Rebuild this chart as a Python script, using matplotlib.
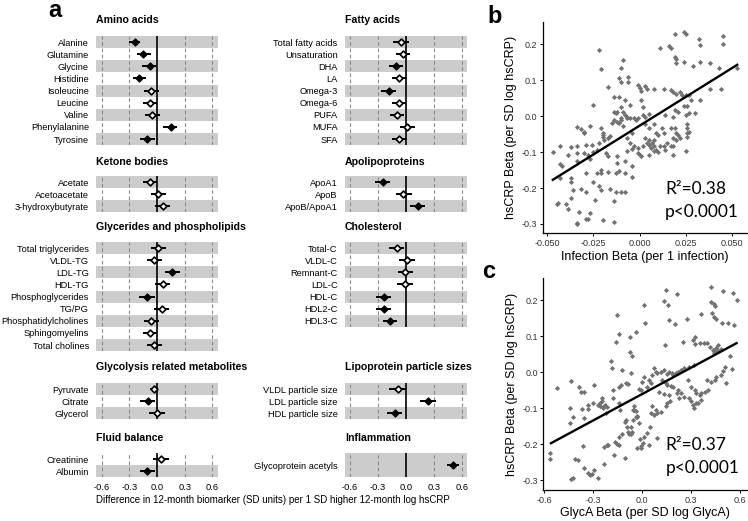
import numpy as np
import matplotlib.pyplot as plt

plt.rcParams['font.family'] = ['Liberation Sans', 'DejaVu Sans']

# ---- panel a: estimates and 95% CI per biomarker group ----
amino_names = ['Alanine', 'Glutamine', 'Glycine', 'Histidine', 'Isoleucine',
               'Leucine', 'Valine', 'Phenylalanine', 'Tyrosine']
amino_est = [-0.24, -0.15, -0.08, -0.19, -0.06, -0.075, -0.05, 0.15, -0.105]
amino_lo = [-0.30, -0.22, -0.16, -0.26, -0.14, -0.155, -0.125, 0.07, -0.185]
amino_hi = [-0.18, -0.07, -0.01, -0.12, 0.025, 0.005, 0.03, 0.22, -0.025]
amino_sig = [1, 1, 1, 1, 0, 0, 0, 1, 1]

ketone_names = ['Acetate', 'Acetoacetate', '3-hydroxybutyrate']
ketone_est = [-0.08, 0.015, 0.06]
ketone_lo = [-0.155, -0.07, -0.02]
ketone_hi = [-0.005, 0.10, 0.14]
ketone_sig = [0, 0, 0]

glyc_names = ['Total triglycerides', 'VLDL-TG', 'LDL-TG', 'HDL-TG', 'Phosphoglycerides',
              'TG/PG', 'Phosphatidylcholines', 'Sphingomyelins', 'Total cholines']
glyc_est = [0.015, -0.03, 0.165, 0.06, -0.11, 0.05, -0.06, -0.075, -0.03]
glyc_lo = [-0.065, -0.11, 0.085, -0.025, -0.19, -0.03, -0.14, -0.155, -0.11]
glyc_hi = [0.095, 0.055, 0.25, 0.14, -0.025, 0.13, 0.02, 0.0, 0.055]
glyc_sig = [0, 0, 1, 0, 1, 0, 0, 0, 0]

glycol_names = ['Pyruvate', 'Citrate', 'Glycerol']
glycol_est = [-0.03, -0.10, -0.005]
glycol_lo = [-0.075, -0.185, -0.085]
glycol_hi = [0.01, -0.02, 0.085]
glycol_sig = [0, 1, 0]

fluid_names = ['Creatinine', 'Albumin']
fluid_est = [0.045, -0.105]
fluid_lo = [-0.04, -0.185]
fluid_hi = [0.13, -0.025]
fluid_sig = [0, 1]

fatty_names = ['Total fatty acids', 'Unsaturation', 'DHA', 'LA', 'Omega-3',
               'Omega-6', 'PUFA', 'MUFA', 'SFA']
fatty_est = [-0.055, -0.035, -0.105, -0.07, -0.185, -0.075, -0.10, 0.015, -0.07]
fatty_lo = [-0.135, -0.11, -0.18, -0.15, -0.265, -0.15, -0.175, -0.06, -0.15]
fatty_hi = [0.03, 0.045, -0.03, 0.01, -0.11, 0.005, -0.02, 0.10, 0.01]
fatty_sig = [0, 0, 1, 0, 1, 0, 0, 0, 0]

apo_names = ['ApoA1', 'ApoB', 'ApoB/ApoA1']
apo_est = [-0.25, -0.03, 0.125]
apo_lo = [-0.33, -0.105, 0.045]
apo_hi = [-0.17, 0.06, 0.205]
apo_sig = [1, 0, 1]

chol_names = ['Total-C', 'VLDL-C', 'Remnant-C', 'LDL-C', 'HDL-C', 'HDL2-C', 'HDL3-C']
chol_est = [-0.10, 0.01, -0.01, -0.015, -0.24, -0.24, -0.17]
chol_lo = [-0.18, -0.07, -0.09, -0.095, -0.32, -0.32, -0.25]
chol_hi = [-0.025, 0.10, 0.08, 0.07, -0.16, -0.16, -0.095]
chol_sig = [0, 0, 0, 0, 1, 1, 1]

lipo_names = ['VLDL particle size', 'LDL particle size', 'HDL particle size']
lipo_est = [-0.09, 0.235, -0.12]
lipo_lo = [-0.18, 0.155, -0.20]
lipo_hi = [-0.005, 0.32, -0.04]
lipo_sig = [0, 1, 1]

infl_names = ['Glycoprotein acetyls']
infl_est = [0.50]
infl_lo = [0.44]
infl_hi = [0.565]
infl_sig = [1]

# ---- panel b: infection beta vs hsCRP beta ----
b_x = [0.019, 0.024, 0.025, 0.032, 0.045, 0.045, 0.033, 0.016, 0.011, 0.017,
       -0.022, -0.009, 0.019, 0.020, 0.020, 0.024, 0.029, 0.033, 0.038, 0.043,
       0.053, -0.021, -0.010, -0.011, -0.010, -0.006, -0.006, -0.001, 0.000, 0.003,
       0.004, 0.008, 0.013, 0.017, 0.018, 0.020, 0.022, 0.023, 0.025, 0.027,
       0.028, 0.033, 0.038, 0.044, 0.026, 0.024, -0.017, -0.014, -0.011, -0.008,
       -0.005, 0.001, 0.002, -0.025, -0.014, -0.013, -0.012, -0.010, -0.009, -0.008,
       -0.007, -0.007, -0.010, -0.010, -0.012, -0.014, -0.011, -0.005, -0.003, -0.002,
       -0.001, 0.002, 0.003, 0.005, -0.034, -0.032, -0.030, -0.027, -0.030, -0.021,
       -0.020, -0.020, -0.022, -0.019, -0.017, -0.016, -0.026, -0.029, -0.034, -0.047,
       -0.043, -0.037, -0.034, -0.039, -0.030, -0.028, -0.025, -0.023, -0.027, -0.018,
       -0.017, -0.012, -0.012, -0.007, -0.004, -0.004, -0.001, -0.001, 0.000, -0.007,
       -0.008, -0.004, -0.043, -0.042, -0.034, -0.037, -0.043, -0.029, -0.021, -0.021,
       -0.017, -0.013, -0.011, -0.008, -0.004, -0.045, -0.044, -0.040, -0.039, -0.033,
       -0.027, -0.028, -0.029, -0.024, -0.014, -0.014, -0.034, -0.034, -0.020, -0.036,
       -0.032, -0.029, -0.037, -0.016, -0.013, -0.010, -0.008, -0.025, -0.023, 0.003,
       0.005, 0.008, 0.009, 0.012, 0.013, 0.017, 0.019, 0.020, 0.021, 0.018,
       0.022, 0.020, 0.026, 0.026, 0.027, 0.026, 0.026, 0.030, 0.003, 0.007,
       0.008, 0.008, 0.009, 0.010, 0.011, 0.013, 0.015, 0.017, 0.018, 0.014,
       0.004, 0.005, 0.006, 0.025, 0.018, -0.003, -0.005, -0.020, -0.015, -0.009,
       0.014, 0.018, 0.019, 0.021, 0.025, 0.027, 0.001, 0.010, 0.005, 0.002,
       0.001, 0.005, 0.008, -0.037, -0.022, -0.021]
b_y = [0.229, 0.234, 0.228, 0.215, 0.222, 0.200, 0.197, 0.194, 0.189, 0.191,
       0.185, 0.157, 0.164, 0.159, 0.147, 0.151, 0.140, 0.150, 0.147, 0.134,
       0.134, 0.131, 0.134, 0.106, 0.096, 0.110, 0.096, 0.087, 0.078, 0.084,
       0.075, 0.075, 0.075, 0.073, 0.066, 0.062, 0.066, 0.058, 0.058, 0.058,
       0.045, 0.045, 0.075, 0.075, 0.029, 0.027, 0.081, 0.053, 0.053, 0.044,
       0.032, 0.045, 0.025, 0.032, 0.013, 0.008, 0.013, 0.025, 0.013, 0.004,
       -0.001, -0.006, -0.006, -0.010, -0.015, -0.012, -0.019, -0.006, -0.005, -0.010,
       -0.006, 0.004, -0.001, 0.005, -0.031, -0.036, -0.043, -0.027, -0.047, -0.033,
       -0.052, -0.058, -0.075, -0.066, -0.061, -0.055, -0.080, -0.080, -0.083, -0.101,
       -0.084, -0.086, -0.103, -0.108, -0.103, -0.108, -0.101, -0.094, -0.120, -0.103,
       -0.110, -0.112, -0.131, -0.061, -0.047, -0.092, -0.089, -0.103, -0.108, -0.098,
       -0.126, -0.140, -0.133, -0.138, -0.126, -0.173, -0.173, -0.159, -0.151, -0.159,
       -0.154, -0.157, -0.153, -0.157, -0.170, -0.244, -0.242, -0.244, -0.259, -0.268,
       -0.270, -0.286, -0.287, -0.233, -0.237, -0.294, -0.296, -0.300, -0.288, -0.205,
       -0.203, -0.210, -0.228, -0.202, -0.210, -0.210, -0.212, -0.182, -0.159, -0.022,
       -0.032, -0.021, -0.047, -0.033, -0.047, -0.033, -0.033, -0.047, -0.052, -0.061,
       -0.061, -0.066, -0.021, -0.032, -0.043, -0.047, -0.057, 0.010, -0.061, -0.075,
       -0.066, -0.084, -0.094, -0.099, -0.084, -0.082, -0.075, -0.084, -0.084, -0.094,
       -0.075, -0.080, -0.089, -0.098, -0.108, -0.084, -0.075, -0.047, -0.019, -0.028,
       0.004, -0.001, 0.018, 0.013, 0.004, 0.010, 0.069, -0.052, -0.066, -0.083,
       -0.110, -0.108, -0.098, -0.182, -0.195, -0.205]
b_fit_x = [-0.047, 0.053]
b_fit_y = [-0.177, 0.143]

# ---- panel c: GlycA beta vs hsCRP beta ----
c_x = [-0.563, -0.563, -0.521, -0.439, -0.443, -0.445, -0.424, -0.435, -0.422, -0.410,
       -0.393, -0.389, -0.377, -0.356, -0.368, -0.335, -0.331, -0.356, -0.362, -0.356,
       -0.335, -0.321, -0.310, -0.294, -0.269, -0.300, -0.294, -0.269, -0.259, -0.248,
       -0.245, -0.238, -0.228, -0.217, -0.221, -0.259, -0.240, -0.236, -0.217, -0.207,
       -0.232, -0.190, -0.186, -0.182, -0.182, -0.170, -0.155, -0.145, -0.174, -0.161,
       -0.153, -0.141, -0.141, -0.132, -0.145, -0.134, -0.124, -0.141, -0.124, -0.103,
       -0.099, -0.087, -0.108, -0.099, -0.095, -0.087, -0.079, -0.070, -0.062, -0.066,
       -0.054, -0.041, -0.052, -0.037, -0.029, -0.058, -0.074, -0.062, -0.072, -0.070,
       -0.037, -0.021, -0.010, 0.000, 0.012, 0.017, 0.010, 0.145, 0.213, 0.134,
       0.159, 0.166, 0.201, 0.275, 0.362, 0.424, 0.497, 0.559, 0.579, 0.420,
       0.441, 0.449, 0.428, 0.441, 0.455, 0.490, 0.528, 0.565, 0.139, 0.248,
       0.310, 0.325, 0.352, 0.379, 0.399, 0.414, 0.321, 0.466, 0.434, 0.445,
       0.455, 0.466, 0.441, 0.482, 0.072, 0.083, 0.062, 0.093, 0.114, 0.134,
       0.151, 0.166, 0.180, 0.192, 0.207, 0.217, 0.238, 0.259, 0.290, 0.317,
       0.041, 0.052, 0.031, -0.006, 0.124, 0.145, 0.155, 0.176, 0.192, 0.217,
       0.238, 0.259, 0.228, 0.213, 0.103, 0.134, 0.166, 0.279, 0.300, 0.321,
       0.331, 0.352, 0.362, 0.383, 0.403, 0.399, 0.424, 0.445, 0.455, 0.486,
       0.497, 0.507, 0.290, 0.300, 0.310, 0.317, 0.331, 0.341, 0.362, 0.062,
       0.083, 0.093, 0.114, 0.145, 0.155, 0.172, 0.052, 0.072, -0.052, -0.031,
       -0.021, 0.048, 0.031, 0.014, -0.014, 0.006, 0.041, 0.093, -0.035, -0.010,
       0.538, 0.548, 0.517]
c_y = [-0.225, -0.242, -0.044, -0.023, -0.098, -0.142, -0.123, -0.297, -0.294, -0.241,
       -0.244, -0.040, -0.054, -0.054, -0.103, -0.101, -0.091, -0.127, -0.204, -0.267,
       -0.281, -0.284, -0.282, -0.271, -0.294, -0.084, -0.036, -0.090, -0.093, -0.081,
       -0.072, -0.096, -0.092, -0.096, -0.114, -0.085, -0.100, -0.208, -0.203, -0.201,
       -0.256, 0.032, 0.011, -0.049, -0.072, -0.195, -0.199, -0.202, -0.229, 0.083,
       0.160, 0.106, -0.040, -0.036, -0.086, -0.105, 0.006, -0.179, -0.171, -0.237,
       -0.031, -0.032, -0.137, -0.132, -0.151, -0.165, -0.171, -0.171, -0.165, -0.151,
       -0.132, -0.123, -0.106, -0.108, -0.121, -0.106, 0.057, 0.044, 0.099, -0.003,
       0.113, -0.047, -0.211, -0.026, 0.187, 0.136, -0.012, 0.229, 0.218, 0.199,
       0.187, 0.144, 0.134, 0.147, 0.162, 0.236, 0.227, 0.221, 0.201, 0.194,
       0.190, 0.184, 0.164, 0.155, 0.147, 0.136, 0.138, 0.131, 0.076, 0.085,
       0.090, 0.099, 0.081, 0.082, 0.081, 0.071, 0.079, 0.076, 0.062, 0.057,
       0.067, 0.060, 0.053, 0.064, 0.011, 0.002, -0.007, -0.003, 0.002, 0.006,
       -0.005, 0.002, -0.003, -0.007, -0.001, 0.002, 0.006, 0.011, 0.014, 0.020,
       -0.021, -0.031, -0.040, -0.049, -0.021, -0.031, -0.035, -0.038, -0.042, -0.049,
       -0.058, -0.068, -0.072, -0.058, -0.056, -0.060, -0.063, -0.021, -0.040, -0.049,
       -0.058, -0.063, -0.058, -0.054, -0.049, -0.021, -0.026, -0.021, -0.012, -0.007,
       0.005, 0.016, -0.072, -0.079, -0.091, -0.100, -0.086, -0.084, -0.077, -0.095,
       -0.106, -0.114, -0.109, -0.095, -0.086, -0.081, -0.112, -0.119, -0.095, -0.123,
       -0.142, -0.151, -0.169, -0.179, -0.186, -0.197, -0.202, -0.183, -0.211, -0.206,
       0.044, 0.010, -0.030]
c_fit_x = [-0.560, 0.579]
c_fit_y = [-0.197, 0.081]

W, H = 748, 521
fig = plt.figure(figsize=(W / 100, H / 100), dpi=100)


def box(x0, y0, x1, y1):
    # pixel box, origin top-left -> figure fraction rect
    return [x0 / W, 1 - y1 / H, (x1 - x0) / W, (y1 - y0) / H]


ROW = 12.125
TICKS = [-0.6, -0.3, 0.0, 0.3, 0.6]


def forest(x0, x1, top, title_y, title, names, est, lo, hi, sig, slots=None, bottom=False):
    n = len(names)
    slots = slots or n
    pad = (slots - n) / 2
    ax = fig.add_axes(box(x0, top, x1, top + slots * ROW))
    ax.set_xlim(-0.655, 0.655)
    ax.set_ylim(n - 0.5 + pad, -0.5 - pad)
    y = np.arange(n)
    for i in y:
        if (n - 1 - i) % 2 == 0:
            if n == 1:
                ax.axhspan(-0.5 - pad, 0.5 + pad, color='#cccccc', lw=0)
            else:
                ax.axhspan(i - 0.5, i + 0.5, color='#cccccc', lw=0)
    for v in (-0.6, -0.3, 0.3, 0.6):
        ax.axvline(v, color='#8a8a8a', lw=0.8, ls=(0, (3.2, 2.4)))
    ax.axvline(0, color='black', lw=1.2)
    ax.hlines(y, lo, hi, color='black', lw=1.4, zorder=3)
    est = np.array(est)
    sig = np.array(sig, dtype=bool)
    ax.scatter(est[sig], y[sig], marker='D', s=13, facecolor='black',
               edgecolor='black', lw=0.9, zorder=4)
    ax.scatter(est[~sig], y[~sig], marker='D', s=12, facecolor='white',
               edgecolor='black', lw=1.2, zorder=4)
    ax.set_yticks(y)
    ax.set_yticklabels(names, fontsize=6.7)
    ax.tick_params(axis='y', length=0, pad=5.4)
    if bottom:
        ax.set_xticks(TICKS)
        ax.set_xticklabels(['-0.6', '-0.3', '0.0', '0.3', '0.6'], fontsize=6.7)
        ax.tick_params(axis='x', length=0, pad=4)
    else:
        ax.set_xticks([])
    for s in ax.spines.values():
        s.set_visible(False)
    fig.text(x0 / W, 1 - title_y / H, title, fontsize=7.6, fontweight='bold',
             ha='left', va='center')
    return ax


LX0, LX1 = 96.5, 217.5
RX0, RX1 = 345, 467

forest(LX0, LX1, 36, 20, 'Amino acids', amino_names, amino_est, amino_lo, amino_hi, amino_sig)
forest(LX0, LX1, 176, 162, 'Ketone bodies', ketone_names, ketone_est, ketone_lo, ketone_hi, ketone_sig)
forest(LX0, LX1, 242, 227, 'Glycerides and phospholipids', glyc_names, glyc_est, glyc_lo, glyc_hi, glyc_sig)
forest(LX0, LX1, 383, 367, 'Glycolysis related metabolites', glycol_names, glycol_est, glycol_lo, glycol_hi, glycol_sig)
forest(LX0, LX1, 453, 438, 'Fluid balance', fluid_names, fluid_est, fluid_lo, fluid_hi, fluid_sig, bottom=True)

forest(RX0, RX1, 36, 20, 'Fatty acids', fatty_names, fatty_est, fatty_lo, fatty_hi, fatty_sig)
forest(RX0, RX1, 176, 162, 'Apolipoproteins', apo_names, apo_est, apo_lo, apo_hi, apo_sig)
forest(RX0, RX1, 242, 227, 'Cholesterol', chol_names, chol_est, chol_lo, chol_hi, chol_sig)
forest(RX0, RX1, 383, 367, 'Lipoprotein particle sizes', lipo_names, lipo_est, lipo_lo, lipo_hi, lipo_sig)
forest(RX0, RX1, 453, 438, 'Inflammation', infl_names, infl_est, infl_lo, infl_hi, infl_sig,
       slots=2, bottom=True)

fig.text(273 / W, 1 - 500 / H,
         'Difference in 12-month biomarker (SD units) per 1 SD higher 12-month log hsCRP',
         fontsize=7, ha='center', va='center')


def scatter_panel(rect, xs, ys, fx, fy, xlim, ylim, xticks, xticklabels, xlabel, r2, txt_x):
    ax = fig.add_axes(rect)
    ax.scatter(xs, ys, marker='D', s=7, color='#727272', linewidths=0, zorder=2)
    ax.plot(fx, fy, color='black', lw=1.7, zorder=3)
    ax.set_xlim(xlim)
    ax.set_ylim(ylim)
    ax.set_xticks(xticks)
    ax.set_xticklabels(xticklabels)
    yt = [-0.3, -0.2, -0.1, 0.0, 0.1, 0.2]
    ax.set_yticks(yt)
    ax.set_yticklabels(['%.1f' % v for v in yt])
    ax.tick_params(direction='out', length=2.5, width=0.7, labelsize=6.5,
                   labelcolor='#333333', pad=1.5)
    for side in ('top', 'right'):
        ax.spines[side].set_visible(False)
    for side in ('left', 'bottom'):
        ax.spines[side].set_linewidth(0.9)
    ax.set_xlabel(xlabel, fontsize=9, labelpad=2)
    ax.set_ylabel('hsCRP Beta (per SD log hsCRP)', fontsize=9, labelpad=3)
    ax.text(txt_x, -0.203, 'R\u00b2=' + r2, fontsize=12.5, family=['Lato', 'DejaVu Sans'],
            ha='left', va='center')
    ax.text(txt_x, -0.267, 'p<0.0001', fontsize=12.5, family=['Lato', 'DejaVu Sans'],
            ha='left', va='center')
    return ax


scatter_panel(box(542.7, 22.4, 746.5, 233.3), b_x, b_y, b_fit_x, b_fit_y,
              (-0.0525, 0.058), (-0.326, 0.261),
              [-0.05, -0.025, 0.0, 0.025, 0.05],
              ['-0.050', '-0.025', '0.000', '0.025', '0.050'],
              'Infection Beta (per 1 infection)', '0.38', 0.0138)
scatter_panel(box(543.3, 278, 746.5, 490), c_x, c_y, c_fit_x, c_fit_y,
              (-0.607, 0.640), (-0.327, 0.262),
              [-0.6, -0.3, 0.0, 0.3, 0.6],
              ['-0.6', '-0.3', '0.0', '0.3', '0.6'],
              'GlycA Beta (per SD log GlycA)', '0.37', 0.144)

fig.text(48 / W, 1 - 17 / H, 'a', fontsize=17, fontweight='bold', va='baseline')
fig.text(487 / W, 1 - 23 / H, 'b', fontsize=17, fontweight='bold', va='baseline')
fig.text(482 / W, 1 - 278 / H, 'c', fontsize=17, fontweight='bold', va='baseline')

fig.savefig('out.png', dpi=100)
